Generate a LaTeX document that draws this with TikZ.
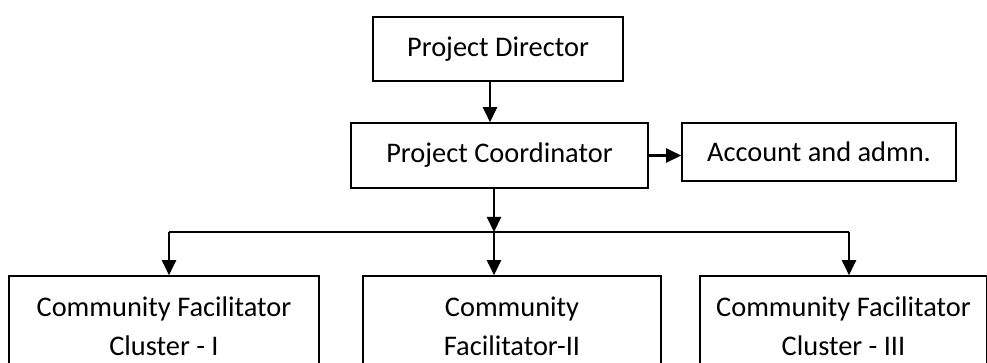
\documentclass[tikz,border=0pt]{standalone}
\usepackage{fontspec}
\setmainfont{Carlito}
\usetikzlibrary{arrows.meta}

\begin{document}
\begin{tikzpicture}[
  x=1pt, y=-1pt,
  box/.style={draw, line width=1.6pt, inner sep=0pt, align=center,
    font=\fontsize{28.4}{39}\selectfont},
  arr/.style={line width=2.2pt, -{Triangle[length=15pt,width=14pt]}},
  link/.style={line width=2.2pt},
]
\useasboundingbox (0,0) rectangle (987,363);
\node[box, minimum width=250pt, minimum height=64pt] (dir) at (498,49) {Project Director};
\node[box, minimum width=297pt, minimum height=65pt] (coord) at (499.5,155.5) {Project Coordinator};
\node[box, minimum width=274pt, minimum height=58pt] (acct) at (819,152) {Account and admn.};
\node[box, minimum width=310pt, minimum height=100pt] (cf1) at (164,326) {Community Facilitator\\Cluster - I};
\node[box, minimum width=298pt, minimum height=100pt] (cf2) at (512,326) {Community\\Facilitator-II};
\node[box, minimum width=287pt, minimum height=100pt] (cf3) at (843.5,326) {Community Facilitator\\Cluster - III};
\coordinate (split) at (494,232);
\draw[arr] ([xshift=-8pt]dir.south) -- ([xshift=-8pt]dir.south |- coord.north);
\draw[arr] (coord.east) -- (coord.east -| acct.west);
\draw[arr] (split |- coord.south) -- (split);
\draw[link] ([xshift=5pt]split -| cf1.north) -- ([xshift=5.5pt]split -| cf3.north);
\draw[arr] ([xshift=5pt]split -| cf1.north) -- ([xshift=5pt]cf1.north);
\draw[arr] (split) -- (split |- cf2.north);
\draw[arr] ([xshift=5.5pt]split -| cf3.north) -- ([xshift=5.5pt]cf3.north);
\end{tikzpicture}
\end{document}
